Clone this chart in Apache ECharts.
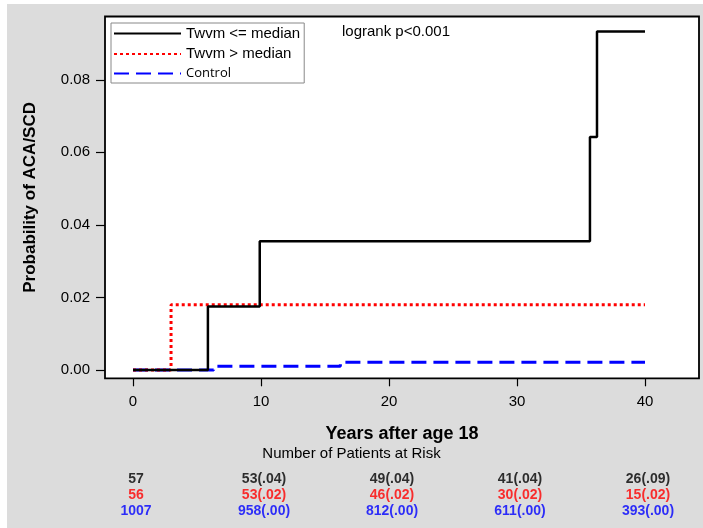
<!DOCTYPE html>
<html>
<head>
<meta charset="utf-8">
<script src="https://cdn.jsdelivr.net/npm/echarts@6/dist/echarts.min.js"></script>
<style>
html,body{margin:0;padding:0;background:#fff;}
#main{width:703px;height:528px;background:linear-gradient(#dcdcdc,#dcdcdc) 7px 4px / 696px 524px no-repeat, #ffffff;}
</style>
</head>
<body>
<div id="main"></div>
<script>
// ---- data ----
var seriesNames = ['Twvm <= median', 'Twvm > median', 'Control'];
// Kaplan-Meier step points [years, probability]
var lowTwvm = [[0, 0], [5.85, 0.0175], [9.9, 0.0355], [35.7, 0.0642], [36.25, 0.0933], [40, 0.0933]];
var highTwvm = [[0, 0], [2.97, 0.018], [40, 0.018]];
var control = [[0, 0], [6.3, 0.001], [16.2, 0.0021], [40, 0.0021]];
var xTicks = [0, 10, 20, 30, 40];
var yTicks = [0, 0.02, 0.04, 0.06, 0.08];
var riskTimes = [0, 10, 20, 30, 40];
var riskLow = ['57', '53(.04)', '49(.04)', '41(.04)', '26(.09)'];
var riskHigh = ['56', '53(.02)', '46(.02)', '30(.02)', '15(.02)'];
var riskControl = ['1007', '958(.00)', '812(.00)', '611(.00)', '393(.00)'];
var riskRows = ['low', 'high', 'control'];
var colors = ['#000000', '#ff0000', '#0000ff'];

var FONT = 'Liberation Sans, Arial, sans-serif';
var NARROW = 'Liberation Sans Narrow, Arial Narrow, Liberation Sans, sans-serif';

var xMin = -2.19, xMax = 44.22;
var yMin = -0.00229, yMax = 0.09744;

var chart = echarts.init(document.getElementById('main'), null, { renderer: 'canvas' });
var riskSets = [riskLow, riskHigh, riskControl];
var riskSeries = riskSets.map(function (labels, k) {
  return {
    type: 'scatter',
    xAxisIndex: 1, yAxisIndex: 1,
    symbolSize: 0,
    silent: true,
    data: riskTimes.map(function (t) { return { value: [t, riskRows[k]] }; }),
    label: {
      show: true, position: 'inside', offset: [3, 1],
      color: colors[k], fontFamily: NARROW, fontWeight: 'bold', fontSize: 14,
      formatter: function (p) { return labels[p.dataIndex]; }
    }
  };
});

var option = {
  animation: false,
  backgroundColor: 'transparent',
  grid: [
    { left: 105, top: 16.5, width: 594, height: 361.8, show: true, backgroundColor: '#ffffff', borderColor: '#000', borderWidth: 1.8, containLabel: false },
    { left: 105, top: 470, width: 594, height: 48, show: false }
  ],
  xAxis: [
    {
      type: 'value', gridIndex: 0, min: xMin, max: xMax,
      splitLine: { show: false },
      axisLine: { show: false, onZero: false },
      axisTick: { show: true, inside: false, length: 8, lineStyle: { color: '#000', width: 1.2 }, customValues: xTicks },
      axisLabel: { color: '#000', fontSize: 15, fontFamily: NARROW, margin: 16, customValues: xTicks, formatter: function (v) { return String(v); } },
      name: 'Years after age 18', nameLocation: 'middle', nameGap: 47,
      nameTextStyle: { color: '#000', fontSize: 18, fontWeight: 'bold', fontFamily: NARROW, verticalAlign: 'top' }
    },
    {
      type: 'value', gridIndex: 1, min: xMin, max: xMax, show: false
    }
  ],
  yAxis: [
    {
      type: 'value', gridIndex: 0, min: yMin, max: yMax,
      splitLine: { show: false },
      axisLine: { show: false, onZero: false },
      axisTick: { show: true, inside: false, length: 9, lineStyle: { color: '#000', width: 1.2 }, customValues: yTicks },
      axisLabel: { color: '#000', fontSize: 15, fontFamily: NARROW, margin: 15, customValues: yTicks, formatter: function (v) { return v.toFixed(2); } },
      name: 'Probability of ACA/SCD', nameLocation: 'middle', nameGap: 66, nameRotate: 90,
      nameMoveOverlap: false,
      nameTextStyle: { color: '#000', fontSize: 17, fontWeight: 'bold', fontFamily: NARROW }
    },
    {
      type: 'category', gridIndex: 1, data: riskRows, inverse: true, show: false
    }
  ],
  legend: {
    orient: 'vertical', left: 111, top: 23,
    padding: [3, 4, 3, 2],
    itemWidth: 67, itemHeight: 14, itemGap: 5.5,
    backgroundColor: '#ffffff', borderColor: '#888888', borderWidth: 1,
    itemStyle: { opacity: 0 },
    textStyle: { color: '#000', fontSize: 15, fontFamily: FONT },
    data: [
      { name: seriesNames[0] },
      { name: seriesNames[1] },
      { name: seriesNames[2], textStyle: { fontSize: 13, fontFamily: 'Open Sans, sans-serif' } }
    ]
  },
  graphic: [
    { type: 'text', left: 342, top: 24, style: { text: 'logrank p<0.001', fill: '#000', font: '15px ' + FONT } },
    { type: 'text', left: 'center', top: 446, style: { text: 'Number of Patients at Risk', fill: '#000', font: '15px ' + NARROW }, x: 51 }
  ],
  series: [
    {
      name: seriesNames[0], type: 'line', step: 'end', data: lowTwvm,
      symbol: 'none', showSymbol: false, z: 4,
      lineStyle: { color: colors[0], width: 2.5, type: 'solid' }, itemStyle: { color: colors[0] }
    },
    {
      name: seriesNames[1], type: 'line', step: 'end', data: highTwvm,
      symbol: 'none', showSymbol: false, z: 3,
      lineStyle: { color: colors[1], width: 3, type: [3, 3] }, itemStyle: { color: colors[1] }
    },
    {
      name: seriesNames[2], type: 'line', step: 'end', data: control,
      symbol: 'none', showSymbol: false, z: 2,
      lineStyle: { color: colors[2], width: 3, type: [15, 7] }, itemStyle: { color: colors[2] }
    }
  ].concat(riskSeries)
};
chart.setOption(option);
</script>
</body>
</html>
